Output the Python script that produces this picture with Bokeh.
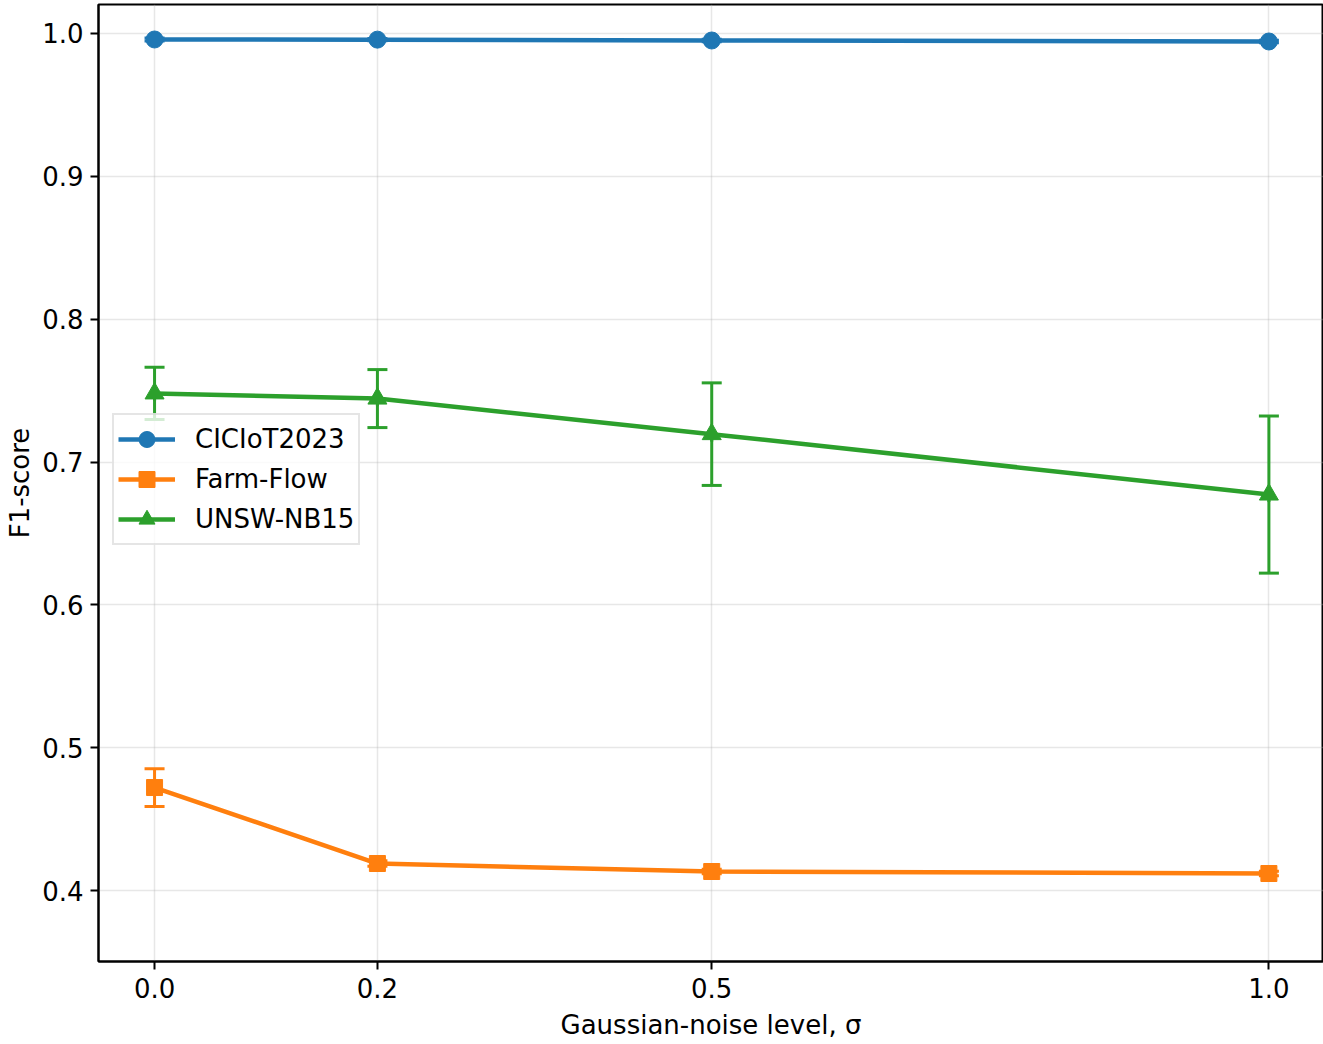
import math
from bokeh.plotting import figure
from bokeh.models import ColumnDataSource, Whisker, TeeHead, FixedTicker, Range1d, Legend, LegendItem
from bokeh.embed import file_html
from bokeh.resources import INLINE

noise = [0.0, 0.2, 0.5, 1.0]
series_names = ["CICIoT2023", "Farm-Flow", "UNSW-NB15"]
cic_mean = [0.9958, 0.9957, 0.9951, 0.9944]
cic_err = [0.0010, 0.0008, 0.0008, 0.0008]
farm_mean = [0.4721, 0.4189, 0.4133, 0.4119]
farm_err = [0.0132, 0.0020, 0.0015, 0.0015]
unsw_mean = [0.7480, 0.7444, 0.7195, 0.6772]
unsw_err = [0.0183, 0.0203, 0.0359, 0.0550]
colors = ["#1f77b4", "#ff7f0e", "#2ca02c"]
markers = ["circle", "square", "triangle"]
marker_sizes = [17, 16, 19]
x_ticks = [0.0, 0.2, 0.5, 1.0]
y_ticks = [0.4, 0.5, 0.6, 0.7, 0.8, 0.9, 1.0]

FONT = "DejaVu Sans"
FS = "26px"

p = figure(width=1323, height=1044, output_backend="svg", toolbar_location=None,
           x_range=Range1d(-0.0503, 1.0490), y_range=Range1d(0.3503, 1.0203),
           min_border_left=98, min_border_right=0, min_border_top=4, min_border_bottom=83)

p.outline_line_color = "black"
p.outline_line_width = 2
p.background_fill_color = "white"
p.border_fill_color = "white"

for ax in (p.xaxis[0], p.yaxis[0]):
    ax.axis_line_width = 2
    ax.axis_line_color = "black"
    ax.major_tick_line_width = 2
    ax.major_tick_line_color = "black"
    ax.major_tick_out = 8
    ax.major_tick_in = 0
    ax.minor_tick_line_color = None
    ax.major_label_text_font = FONT
    ax.major_label_text_font_size = FS
    ax.major_label_text_color = "black"
    ax.axis_label_text_font = FONT
    ax.axis_label_text_font_size = FS
    ax.axis_label_text_font_style = "normal"
    ax.axis_label_text_color = "black"

p.xaxis.ticker = FixedTicker(ticks=x_ticks)
p.yaxis.ticker = FixedTicker(ticks=y_ticks)
p.xaxis.major_label_overrides = {0.0: "0.0", 0.2: "0.2", 0.5: "0.5", 1.0: "1.0"}
p.yaxis.major_label_overrides = {v: f"{v:.1f}" for v in y_ticks}
p.xaxis.axis_label = "Gaussian-noise level, σ"
p.yaxis.axis_label = "F1-score"
p.xaxis.major_label_standoff = 8
p.yaxis.major_label_standoff = 7
p.xaxis.axis_label_standoff = 9
p.yaxis.axis_label_standoff = 4

p.grid.grid_line_color = "#b0b0b0"
p.grid.grid_line_alpha = 0.3
p.grid.grid_line_width = 1.5

items = []
for name, mean, err, col, mk, ms in zip(series_names, [cic_mean, farm_mean, unsw_mean],
                                         [cic_err, farm_err, unsw_err], colors, markers, marker_sizes):
    src = ColumnDataSource(dict(x=noise, y=mean,
                                lower=[m - e for m, e in zip(mean, err)],
                                upper=[m + e for m, e in zip(mean, err)]))
    w = Whisker(source=src, base="x", lower="lower", upper="upper", dimension="height",
                line_color=col, line_width=3,
                upper_head=TeeHead(size=20, line_color=col, line_width=3),
                lower_head=TeeHead(size=20, line_color=col, line_width=3))
    p.add_layout(w)
    ln = p.line("x", "y", source=src, line_color=col, line_width=4.5)
    # short vertical bar hidden under each marker; it gives the legend its error-bar glyph
    bar = p.scatter("x", "y", source=src, marker="dash", angle=math.pi / 2, size=15,
                    line_color=col, line_width=3)
    sc = p.scatter("x", "y", source=src, marker=mk, size=ms, fill_color=col, line_color=col)
    items.append(LegendItem(label=name, renderers=[ln, bar, sc]))

legend = Legend(items=items, location=(14, 416), label_text_font=FONT,
                label_text_font_size=FS, label_text_color="black",
                glyph_width=57, glyph_height=40, spacing=0, padding=4, margin=0,
                label_standoff=20, border_line_color="#cccccc", border_line_width=2,
                background_fill_color="white", background_fill_alpha=0.8)
p.add_layout(legend, "center")

open("out.html", "w").write(file_html(p, INLINE))
